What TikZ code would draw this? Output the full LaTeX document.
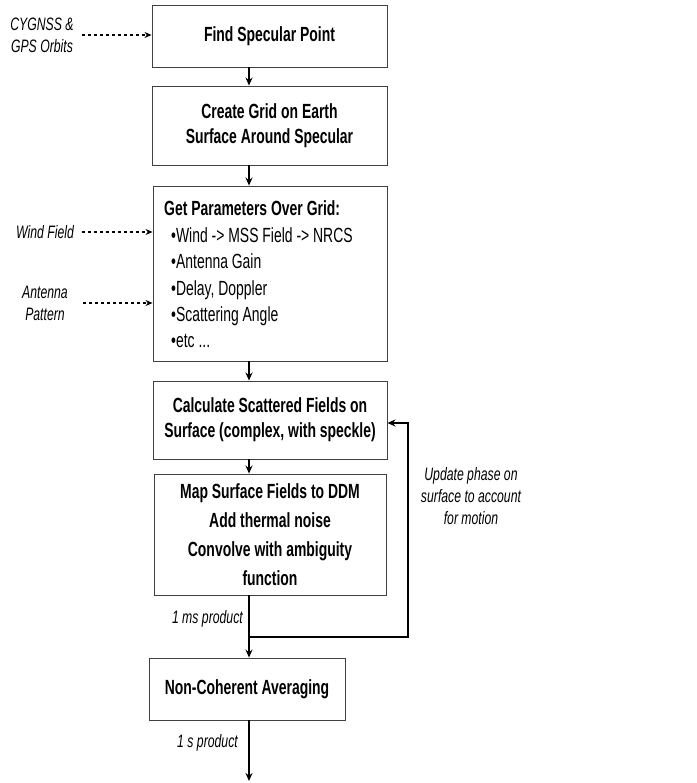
\documentclass[tikz,border=0pt]{standalone}
\usepackage{fontspec}
\setmainfont{Liberation Sans}[FakeStretch=0.68]
\usetikzlibrary{arrows.meta}
\begin{document}
\begin{tikzpicture}[x=1pt,y=-1pt,
  box/.style={draw=black!75, line width=0.9pt, inner sep=0pt, align=center,
    font=\fontsize{20.5}{25}\selectfont\bfseries},
  flow/.style={line width=1.4pt, -{Stealth[length=8pt,width=7pt]}},
  feed/.style={line width=1.6pt, -{Stealth[length=8pt,width=7pt]}},
  dasharrow/.style={line width=1.2pt, dash pattern=on 3pt off 3pt, -{Stealth[length=7pt,width=6pt]}},
  lab/.style={font=\fontsize{18}{22}\selectfont\itshape, align=center, inner sep=0pt}
]
\useasboundingbox (0,0) rectangle (696,783);
\coordinate (colx) at (249,0);

\node[box, minimum width=235, minimum height=62] (b1) at (269.5,36) {Find Specular Point};
\node[box, minimum width=235, minimum height=79] (b2) at (269.5,125.5) {Create Grid on Earth\\Surface Around Specular};
\node[box, minimum width=234, minimum height=175] (b3) at (270,273.5) {};
\node[anchor=west, inner sep=0pt, align=left, font=\fontsize{20.5}{26.4}\selectfont] (b3t) at (164,274.5)
  {\textbf{Get Parameters Over Grid:}\\
   \hspace*{7pt}•Wind -> MSS Field -> NRCS\\
   \hspace*{7pt}•Antenna Gain\\
   \hspace*{7pt}•Delay, Doppler\\
   \hspace*{7pt}•Scattering Angle\\
   \hspace*{7pt}•etc ...};
\node[box, minimum width=234, minimum height=78] (b4) at (270,420) {Calculate Scattered Fields on\\Surface (complex, with speckle)};
\node[box, minimum width=232, minimum height=121, font=\fontsize{20.5}{29}\selectfont\bfseries] (b5) at (270,534.5) {Map Surface Fields to DDM\\Add thermal noise\\Convolve with ambiguity\\function};
\node[box, minimum width=196, minimum height=62] (b6) at (247,689) {Non-Coherent Averaging};

\coordinate (join) at (249,637);
\coordinate (loopc) at (408,637);
\coordinate (loopt) at (408,423);
\coordinate (endp) at (249,781);

\draw[flow] (b1.south -| colx) -- (b2.north -| colx);
\draw[flow] (b2.south -| colx) -- (b3.north -| colx);
\draw[flow] (b3.south -| colx) -- (b4.north -| colx);
\draw[flow] (b4.south -| colx) -- (b5.north -| colx);
\draw[flow] (b5.south -| colx) -- (b6.north -| colx);
\draw[flow] (b6.south -| colx) -- (endp);
\draw[feed] (join) -- (loopc) -- (loopt) -- (loopt -| b4.east);

\node[lab] (cyg) at (42,35) {CYGNSS \&\\GPS Orbits};
\node[lab] (wind) at (45,232) {Wind Field};
\node[lab] (ant) at (45,303) {Antenna\\Pattern};
\coordinate (cygs) at (82,35);
\coordinate (winds) at (82,232);
\coordinate (ants) at (83,303);
\draw[dasharrow] (cygs) -- (cygs -| b1.west);
\draw[dasharrow] (winds) -- (winds -| b3.west);
\draw[dasharrow] (ants) -- (ants -| b3.west);

\node[lab] (upd) at (471,496) {Update phase on\\surface to account\\for motion};
\node[lab, anchor=east] (ms) at (243,619) {1 ms product};
\node[lab, anchor=east] (sp) at (238,743) {1 s product};
\end{tikzpicture}
\end{document}
